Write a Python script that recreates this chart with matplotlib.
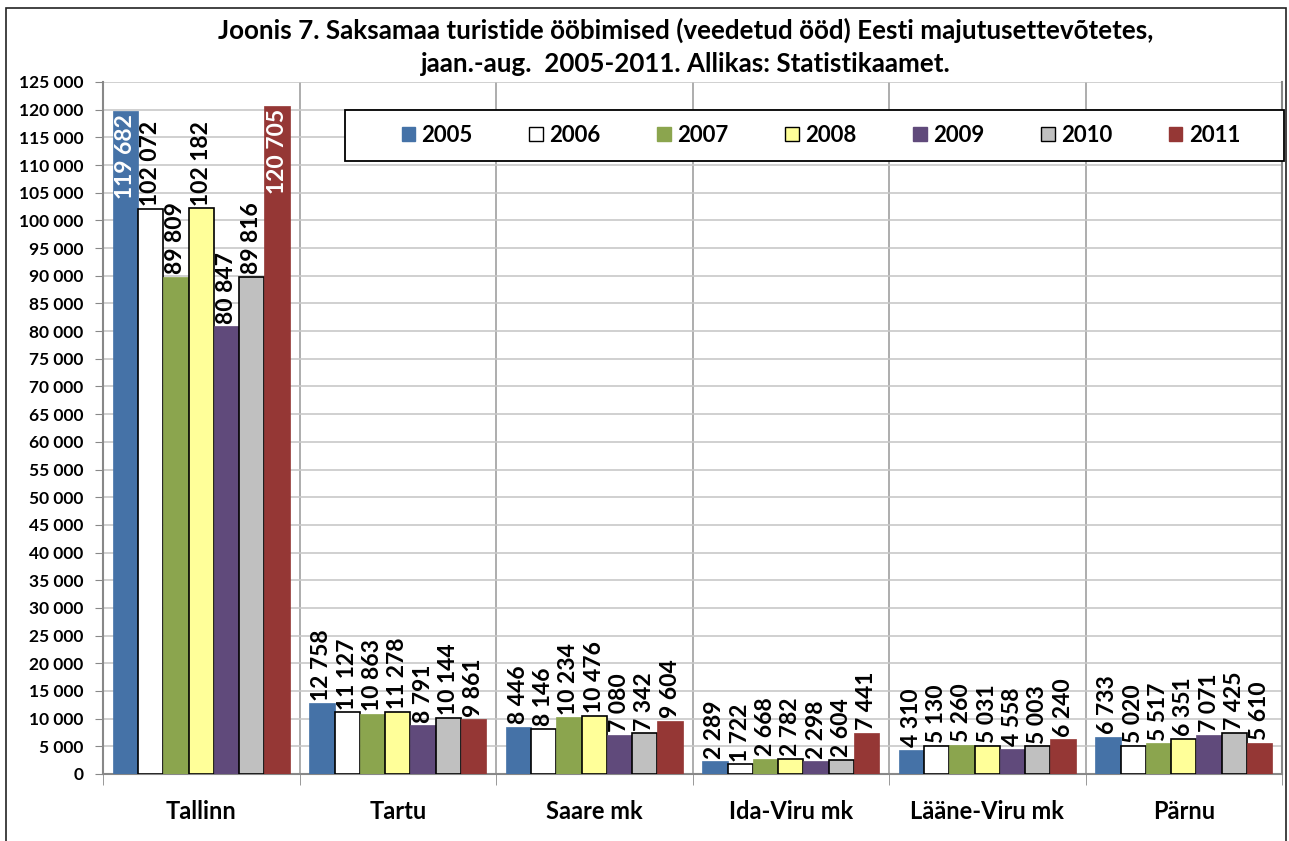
import matplotlib
matplotlib.use("Agg")
import matplotlib.pyplot as plt
from matplotlib.patches import Rectangle
from matplotlib.ticker import FuncFormatter, MultipleLocator
import numpy as np

plt.rcParams['font.family'] = ['Lato', 'DejaVu Sans']
plt.rcParams['font.weight'] = 'bold'

categories = ["Tallinn", "Tartu", "Saare mk", "Ida-Viru mk", "Lääne-Viru mk", "Pärnu"]
years = ["2005", "2006", "2007", "2008", "2009", "2010", "2011"]
v2005 = [119682, 12758, 8446, 2289, 4310, 6733]
v2006 = [102072, 11127, 8146, 1722, 5130, 5020]
v2007 = [89809, 10863, 10234, 2668, 5260, 5517]
v2008 = [102182, 11278, 10476, 2782, 5031, 6351]
v2009 = [80847, 8791, 7080, 2298, 4558, 7071]
v2010 = [89816, 10144, 7342, 2604, 5003, 7425]
v2011 = [120705, 9861, 9604, 7441, 6240, 5610]
series = [v2005, v2006, v2007, v2008, v2009, v2010, v2011]

colors = ["#4572A7", "#FFFFFF", "#8BA54E", "#FFFF99", "#604A7B", "#C0C0C0", "#953735"]
edges = [None, "black", None, "black", None, "black", None]

W, H = 1289, 841
fig = plt.figure(figsize=(W / 100, H / 100), dpi=100)
L, R, B, T = 103, 1282, 774, 82
ax = fig.add_axes([L / W, 1 - B / H, (R - L) / W, (B - T) / H])

# figure border
fig.patches.append(Rectangle((6 / W, -0.01), (1286 - 6) / W, 1 - 8 / H + 0.01,
                             transform=fig.transFigure, fill=False, edgecolor="#222222", lw=1.2))

n = len(categories)
nb = len(years)
bw = 0.9 / nb
x = np.arange(n)
for i, (vals, c, e) in enumerate(zip(series, colors, edges)):
    pos = x - 0.45 + bw * (i + 0.5)
    ax.bar(pos, vals, width=bw, color=c,
           edgecolor=(e if e else c), linewidth=(1.2 if e else 0.5),
           label=years[i], zorder=3)
    for p, v in zip(pos, vals):
        lab = f"{v:,}".replace(",", " ")
        if v > 110000:
            ax.annotate(lab, (p, v), xytext=(0, -2), textcoords="offset points",
                        rotation=90, ha="center", va="top", color="white",
                        fontsize=16.5, fontweight="bold", zorder=5)
        else:
            ax.annotate(lab, (p, v), xytext=(0, 2), textcoords="offset points",
                        rotation=90, ha="center", va="bottom", color="black",
                        fontsize=16.5, fontweight="bold", zorder=5)

ax.set_xlim(-0.5, n - 0.5)
ax.set_ylim(0, 125000)
ax.yaxis.set_major_locator(MultipleLocator(5000))
ax.yaxis.set_major_formatter(FuncFormatter(lambda v, p: f"{int(v):,}".replace(",", " ")))
ax.set_xticks(x)
ax.set_xticklabels(categories, fontsize=17, fontweight="bold")
ax.set_xticks(np.arange(-0.5, n, 1.0), minor=True)
ax.tick_params(axis="x", which="major", length=0, pad=19)
ax.tick_params(axis="x", which="minor", length=8, color="#888888", direction="out")
ax.tick_params(axis="y", length=6, color="#888888", direction="out", labelsize=12.5, pad=8)
for lab in ax.get_yticklabels():
    lab.set_fontweight("bold")

ax.grid(axis="y", color="#C8C8C8", lw=1.2, zorder=0)
ax.grid(axis="x", which="minor", color="#A0A0A0", lw=1.2, zorder=0)
ax.set_axisbelow(True)
ax.spines["top"].set_visible(False)
for s in ["left", "bottom", "right"]:
    ax.spines[s].set_color("#888888")
    ax.spines[s].set_linewidth(1.5)

# legend box
box = Rectangle(((345 - L) / (R - L), (B - 161) / (B - T)), (1284 - 345) / (R - L), 51 / (B - T),
                transform=ax.transAxes, facecolor="white", edgecolor="black", lw=1.3,
                zorder=9, clip_on=False)
ax.add_patch(box)
leg = ax.legend(loc="center", ncol=7, frameon=False,
                bbox_to_anchor=((821 - L) / (R - L), (B - 135) / (B - T)),
                handlelength=0.6, handleheight=0.6, handletextpad=0.3,
                columnspacing=2.55, borderaxespad=0,
                prop={"weight": "bold", "size": 16})
leg.set_zorder(10)
for h, e, c in zip(leg.legend_handles, edges, colors):
    h.set_edgecolor(e if e else c)
    h.set_linewidth(1.0)

fig.text(686 / W, 1 - 30 / H,
         "Joonis 7. Saksamaa turistide ööbimised (veedetud ööd) Eesti majutusettevõtetes,",
         ha="center", va="center", fontsize=18.7, fontweight="bold")
fig.text(686 / W, 1 - 64 / H,
         "jaan.-aug.  2005-2011. Allikas: Statistikaamet.",
         ha="center", va="center", fontsize=18.7, fontweight="bold")

fig.savefig("out.png", dpi=100)
